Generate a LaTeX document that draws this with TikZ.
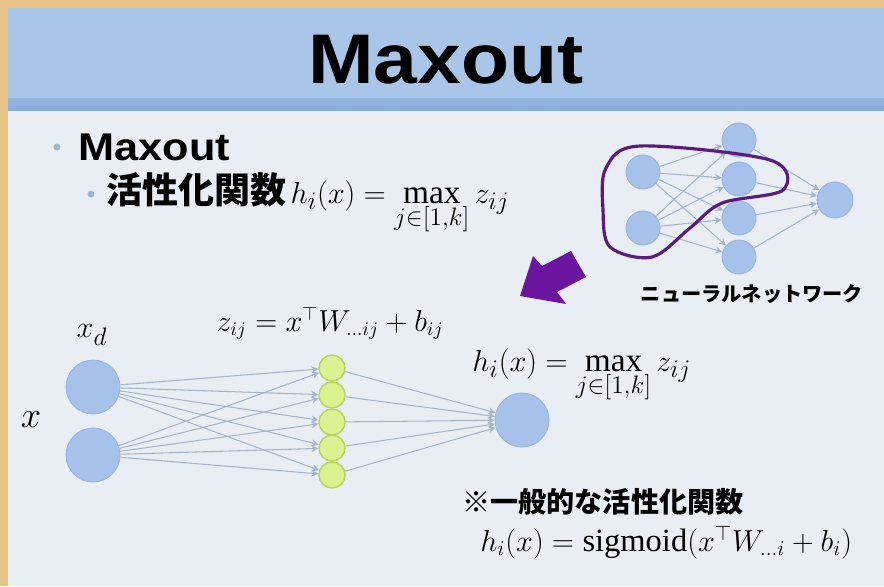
\documentclass[tikz,border=0pt]{standalone}
\usepackage{fontspec}
\setmainfont{Liberation Serif}
\newfontfamily\headfont{Liberation Sans}[FakeStretch=1.12]
\newfontfamily\jpfont{Noto Sans CJK JP}
\usetikzlibrary{positioning, arrows.meta, calc}
\definecolor{parch}{HTML}{E6C487}
\definecolor{slidebg}{HTML}{E9EEF5}
\definecolor{titleband}{HTML}{A9C5E7}
\definecolor{bandline}{HTML}{8AAEDB}
\definecolor{nodeblue}{HTML}{A7C2EA}
\definecolor{nodeedge}{HTML}{97B4E0}
\definecolor{zgreen}{HTML}{DCF290}
\definecolor{zedge}{HTML}{B6D35C}
\definecolor{linkgray}{HTML}{A5B4C8}
\definecolor{loopviolet}{HTML}{5A1C7C}
\definecolor{arrowviolet}{HTML}{6A14A0}
\definecolor{dotblue}{HTML}{9DB6D6}

\begin{document}
\begin{tikzpicture}[x=0.02cm, y=-0.02cm,
    unit/.style={circle, fill=nodeblue, draw=nodeedge, line width=0.5pt,
                 minimum size=0.68cm, inner sep=0pt},
    bigunit/.style={unit, minimum size=1.08cm},
    zunit/.style={circle, fill=zgreen, draw=zedge, line width=0.8pt,
                  minimum size=0.52cm, inner sep=0pt},
    link/.style={-{Stealth[length=4pt, width=4pt]}, draw=linkgray, line width=0.6pt},
    head/.style={font=\headfont\bfseries\fontsize{22}{24}\selectfont},
    jp/.style={font=\jpfont\bfseries\fontsize{#1}{#1}\selectfont},
    eq/.style={font=\fontsize{#1}{#1}\selectfont, inner sep=0pt}]
  % slide background
  \useasboundingbox (0,0) rectangle (884,586);
  \fill[parch] (0,0) rectangle (884,586);
  \fill[slidebg] (8,8) rectangle (884,586);
  \fill[titleband] (8,8) rectangle (884,100);
  \shade[top color=bandline!80!titleband, bottom color=bandline] (8,98) rectangle (884,110);
  \node[font=\headfont\bfseries\fontsize{40}{44}\selectfont] (title) at (446,60) {Maxout};

  % bullets
  \fill[dotblue] (57,147) circle (3.5);
  \node[head, anchor=west, inner sep=0pt] (maxout) at (78,147) {Maxout};
  \fill[dotblue] (91,194) circle (3.5);
  \node[jp=20.5, anchor=base west, inner sep=0pt] (actfun) at (106,203) {活性化関数};
  \node[eq=19, anchor=base west] (maxdef) at ([xshift=2pt]actfun.base east)
    {$h_i(x) = \displaystyle\max_{j\in[1,k]} z_{ij}$};

  % small network
  \node[unit] (in1) at (643,172) {};
  \node[unit] (in2) at (643,228) {};
  \foreach \i/\y in {1/140,2/179,3/218,4/257}
    \node[unit] (hid\i) at (739,\y) {};
  \node[unit, minimum size=0.72cm] (out) at (835,200) {};
  \foreach \a in {1,2}
    \foreach \b in {1,...,4}
      \draw[link] (in\a) -- (hid\b);
  \foreach \b in {1,...,4}
    \draw[link] (hid\b) -- (out);
  \draw[loopviolet, line width=1.8pt] plot[smooth cycle, tension=0.55] coordinates
    {(606,168) (640,146) (770,160) (783,190) (722,203) (690,228) (652,257) (610,247) (603,210)};
  \node[jp=11.5] (nnlabel) at (752,294) {ニューラルネットワーク};
  \fill[arrowviolet] (520,296) -- (533,256) -- (542,266) -- (571,251)
    -- (586,277) -- (557,292) -- (566,304) -- cycle;

  % maxout unit
  \node[bigunit] (xa) at (93,387) {};
  \node[bigunit] (xb) at (93,455) {};
  \foreach \i/\y in {1/368,2/395,3/422,4/448,5/475}
    \node[zunit] (z\i) at (332,\y) {};
  \node[bigunit] (hout) at (522,420) {};
  \foreach \a in {xa,xb}
    \foreach \b in {1,...,5}
      \draw[link] (\a) -- (z\b);
  \foreach \b in {1,...,5}
    \draw[link] (z\b) -- (hout);
  \node[eq=19] (xd) at (92,335) {$x_d$};
  \node[eq=21] (xin) at (31,420) {$x$};
  \node[eq=16] (zdef) at (330,323) {$z_{ij} = x^{\top} W_{\ldots ij} + b_{ij}$};
  \node[eq=19, anchor=north west] (hmax) at (472,348)
    {$h_i(x) = \displaystyle\max_{j\in[1,k]} z_{ij}$};

  % usual activation
  \node[jp=16, anchor=west, inner sep=0pt] (note) at (462,502) {※一般的な活性化関数};
  \node[eq=18.5, anchor=west] (sigdef) at (480,542)
    {$h_i(x) = \mathrm{sigmoid}(x^{\top} W_{\ldots i} + b_i)$};
\end{tikzpicture}
\end{document}
